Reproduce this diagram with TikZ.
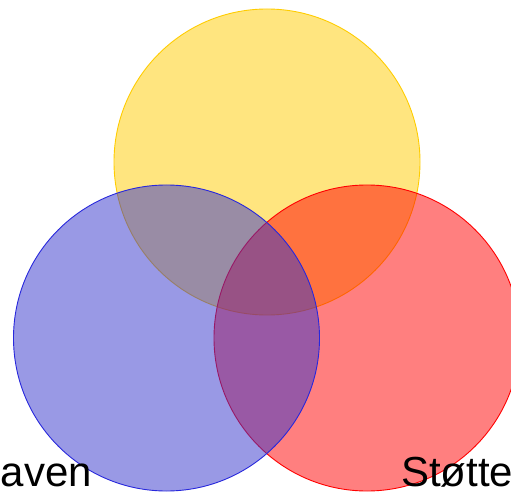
\documentclass[tikz,border=0pt]{standalone}
\usepackage{fontspec}
\setmainfont{Liberation Sans}
\definecolor{ygold}{RGB}{255,204,0}
\definecolor{bfill}{RGB}{51,51,204}
\definecolor{bline}{RGB}{40,40,220}
\definecolor{rfill}{RGB}{255,0,0}
\begin{document}
\begin{tikzpicture}[x=1pt,y=-1pt,
  venn/.style={line width=0.9pt},
  lab/.style={anchor=base west,inner sep=0pt,font=\fontsize{42}{50}\selectfont,text=black}]
\useasboundingbox (0,0) rectangle (511,494);
\clip (0,0) rectangle (511,494);
\coordinate (cy) at (267,162);
\coordinate (cr) at (367,338);
\coordinate (cb) at (166.5,338);
\draw[venn,draw=ygold,fill=ygold,fill opacity=0.5] (cy) circle[radius=153];
\draw[venn,draw=rfill,fill=rfill,fill opacity=0.5] (cr) circle[radius=153];
\draw[venn,draw=bline,fill=bfill,fill opacity=0.5] (cb) circle[radius=153];
\node[lab] (l1) at (0.5,486) {aven};
\node[lab] (l2) at (401,486) {Støtte};
\end{tikzpicture}
\end{document}
